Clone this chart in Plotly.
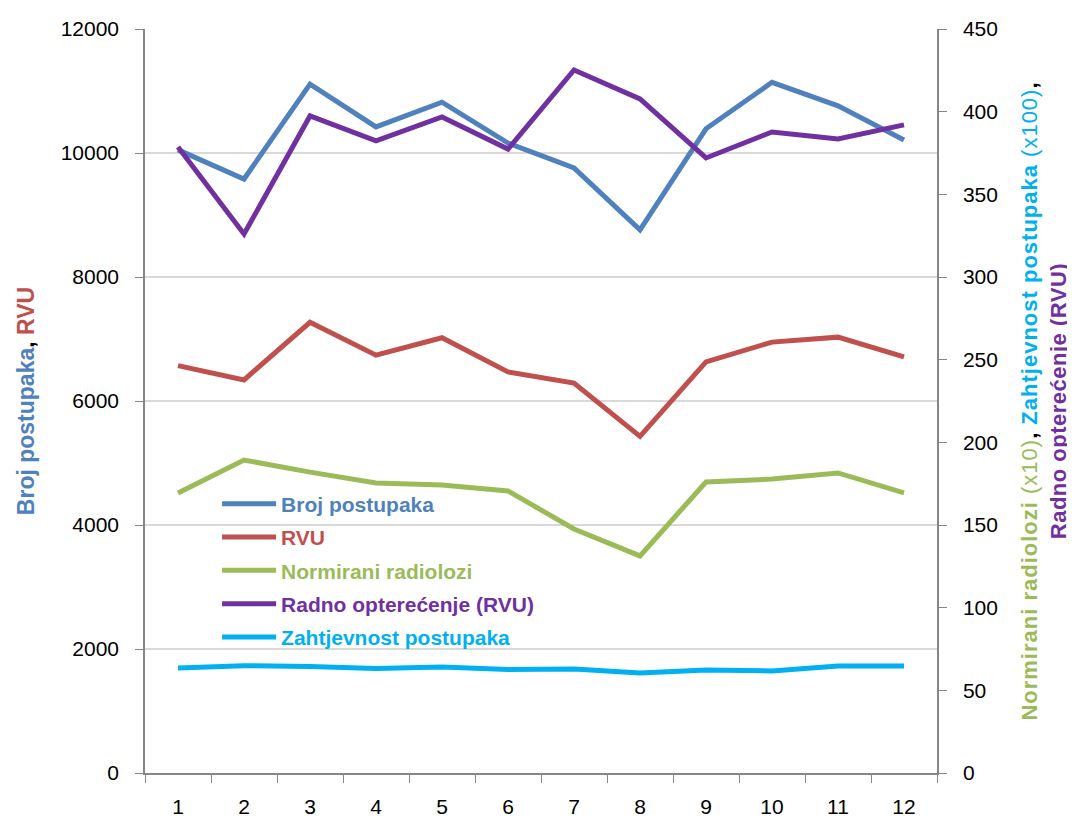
import plotly.graph_objects as go

months = ["1", "2", "3", "4", "5", "6", "7", "8", "9", "10", "11", "12"]

broj_postupaka = [10050, 9580, 11110, 10420, 10820, 10160, 9760, 8760, 10390, 11140, 10760, 10210]
rvu = [6570, 6340, 7270, 6740, 7020, 6470, 6290, 5430, 6630, 6950, 7030, 6710]
normirani_radiolozi = [169.4, 189.3, 182.0, 175.4, 174.2, 170.6, 147.6, 131.3, 176.0, 177.8, 181.5, 169.4]
radno_opterecenje = [378.6, 326.0, 397.4, 382.3, 396.8, 377.4, 425.2, 407.7, 372.0, 387.7, 383.5, 392.0]
zahtjevnost = [63.5, 64.9, 64.4, 63.2, 64.1, 62.6, 62.9, 60.5, 62.3, 61.7, 64.7, 64.7]

BLUE = "#4F81BD"
RED = "#C0504D"
GREEN = "#9BBB59"
PURPLE = "#7030A0"
CYAN = "#00B0F0"
AXIS = "#868686"

font_main = "Liberation Sans, Arial"


def leg(text, color):
    return "<span style='color:%s'><b>%s</b></span>" % (color, text)


series = [
    (broj_postupaka, "Broj postupaka", BLUE, "y"),
    (rvu, "RVU", RED, "y"),
    (normirani_radiolozi, "Normirani radiolozi", GREEN, "y2"),
    (radno_opterecenje, "Radno opterećenje (RVU)", PURPLE, "y2"),
    (zahtjevnost, "Zahtjevnost postupaka", CYAN, "y2"),
]

fig = go.Figure()
for i, (vals, name, color, ax) in enumerate(series):
    fig.add_trace(go.Scatter(x=months, y=vals, name=leg(name, color), mode="lines",
                             legendgroup="g%d" % i,
                             line=dict(color=color, width=5), yaxis=ax))

left_title = ("<span style='color:%s'><b>Broj postupaka</b></span><b>, </b>"
              "<span style='color:%s'><b>RVU</b></span>" % (BLUE, RED))
sp1 = "letter-spacing:1px;"
sp2 = "letter-spacing:0.5px;"
right_title = ("<span style='color:%s;%s'><b>Normirani radiolozi</b> (x10)</span>"
               "<span style='%s'><b>, </b></span>"
               "<span style='color:%s;%s'><b>Zahtjevnost postupaka</b> (x100)</span>"
               "<span style='%s'><b>,</b></span><br>"
               "<span style='color:%s;%s'><b>Radno opterećenje (RVU)</b></span>"
               % (GREEN, sp1, sp1, CYAN, sp1, sp1, PURPLE, sp2))

# page body has an 8px margin, so the margins are shifted to keep the plot area in place
fig.update_layout(
    width=1075, height=819,
    margin=dict(l=137, r=146, t=21, b=54),
    paper_bgcolor="white", plot_bgcolor="white",
    font=dict(family=font_main, size=21, color="black"),
    showlegend=True,
    legend=dict(x=0.091, y=0.389, xanchor="left", yanchor="top", bgcolor="rgba(0,0,0,0)",
                font=dict(family=font_main, size=21), traceorder="grouped", tracegroupgap=3,
                itemwidth=54),
    xaxis=dict(type="category", range=[-0.5, 11.5], tickson="boundaries", ticks="outside",
               ticklen=8, tickcolor=AXIS, showline=True, linecolor=AXIS, linewidth=1.5,
               showgrid=False, automargin=False, ticklabelstandoff=14),
    yaxis=dict(range=[0, 12000], dtick=2000, tickformat="d", ticks="outside", ticklen=8,
               tickcolor=AXIS, showline=True, linecolor=AXIS, linewidth=1.5,
               gridcolor="#D9D9D9", gridwidth=1.5, zeroline=False, automargin=False,
               ticklabelstandoff=12,
               title=dict(text=left_title, font=dict(family=font_main, size=23), standoff=20)),
    yaxis2=dict(range=[0, 450], dtick=50, overlaying="y", side="right", ticks="outside", ticklen=8,
                tickcolor=AXIS, showline=True, linecolor=AXIS, linewidth=1.5, showgrid=False,
                zeroline=False, automargin=False, ticklabelstandoff=12,
                title=dict(text=right_title, font=dict(family=font_main, size=22), standoff=25)),
)

fig.write_html("out.html")
